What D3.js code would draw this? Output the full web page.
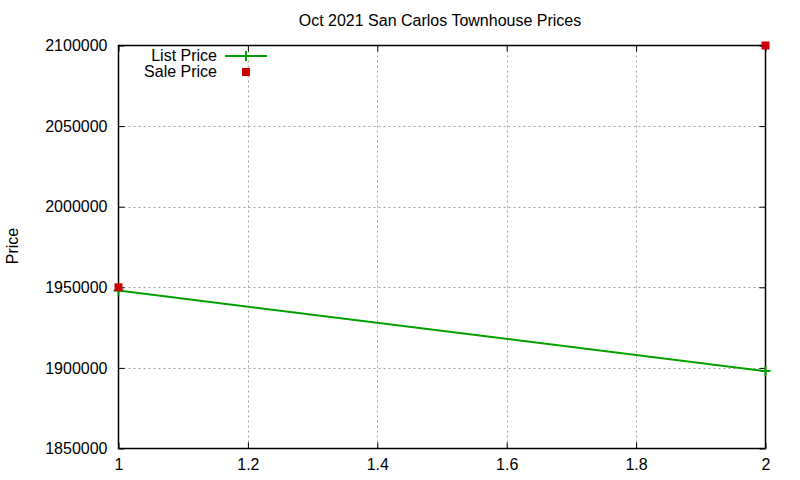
<!DOCTYPE html>
<html>
<head>
  <meta charset='utf-8'>
  <title>Oct 2021 San Carlos Townhouse Prices</title>
  <style>
    body { margin: 0; background: #fff; }
    svg { display: block; font-family: 'Liberation Sans', Arial, sans-serif; }
  </style>
</head>
<body>
<div id="chart"></div>
<script src="https://cdnjs.cloudflare.com/ajax/libs/d3/7.8.5/d3.min.js"></script>
<script>

// data
var listX = [1, 2];
var listPrice = [1948000, 1898000];
var saleX = [1, 2];
var salePrice = [1950000, 2100000];
var xTicks = [1, 1.2, 1.4, 1.6, 1.8, 2];
var yTicks = [1850000, 1900000, 1950000, 2000000, 2050000, 2100000];

var width = 800, height = 480;
// plot box (window.top is read-only, so no bare "top")
var plotL = 118.5, plotR = 765.5, plotT = 45.5, plotB = 448.5;

var svg = d3.select('#chart')
  .append('svg')
  .attr('width', width)
  .attr('height', height);

var x = d3.scaleLinear().domain([1, 2]).range([plotL, plotR]);
var y = d3.scaleLinear().domain([1850000, 2100000]).range([plotB, plotT]);

// grid, dotted grey
var grid = svg.append('g')
  .attr('stroke', '#a0a0a0')
  .attr('stroke-width', 1)
  .attr('stroke-dasharray', '2,3');

grid.selectAll('line.gx')
  .data(xTicks.slice(1, -1))
  .enter().append('line')
    .attr('x1', function(d) { return Math.round(x(d)) + 0.5; })
    .attr('x2', function(d) { return Math.round(x(d)) + 0.5; })
    .attr('y1', plotT)
    .attr('y2', plotB);

grid.selectAll('line.gy')
  .data(yTicks.slice(1, -1))
  .enter().append('line')
    .attr('y1', function(d) { return Math.round(y(d)) + 0.5; })
    .attr('y2', function(d) { return Math.round(y(d)) + 0.5; })
    .attr('x1', plotL)
    .attr('x2', plotR);

// axes: labels outside, ticks inward, mirrored
svg.append('g')
  .attr('transform', 'translate(0,' + plotB + ')')
  .call(d3.axisBottom(x).tickValues(xTicks).tickSize(-6).tickPadding(10).tickFormat(d3.format('')));
svg.append('g')
  .attr('transform', 'translate(0,' + plotT + ')')
  .call(d3.axisTop(x).tickValues(xTicks).tickSize(-6).tickFormat(''));
svg.append('g')
  .attr('transform', 'translate(' + plotL + ',0)')
  .call(d3.axisLeft(y).tickValues(yTicks).tickSize(-6).tickPadding(11).tickFormat(d3.format('d')));
svg.append('g')
  .attr('transform', 'translate(' + plotR + ',0)')
  .call(d3.axisRight(y).tickValues(yTicks).tickSize(-6).tickFormat(''));

svg.selectAll('.domain').remove();
svg.selectAll('.tick line').attr('stroke', '#000');
svg.selectAll('.tick text')
  .attr('fill', '#000')
  .attr('font-size', '16px')
  .attr('font-family', "'Liberation Sans', Arial, sans-serif");

// border
svg.append('rect')
  .attr('x', plotL)
  .attr('y', plotT)
  .attr('width', plotR - plotL)
  .attr('height', plotB - plotT)
  .attr('fill', 'none')
  .attr('stroke', '#000')
  .attr('stroke-width', 1.5);

// list price line with cross points
var line = d3.line()
  .x(function(d, i) { return x(listX[i]); })
  .y(function(d) { return y(d); });

svg.append('path')
  .datum(listPrice)
  .attr('d', line)
  .attr('fill', 'none')
  .attr('stroke', '#00a000')
  .attr('stroke-width', 2);

svg.selectAll('path.cross')
  .data(listPrice)
  .enter().append('path')
    .attr('class', 'cross')
    .attr('d', function(d, i) {
      var cx = x(listX[i]), cy = y(d);
      return 'M' + (cx - 5) + ',' + cy + 'H' + (cx + 5) + 'M' + cx + ',' + (cy - 5) + 'V' + (cy + 5);
    })
    .attr('stroke', '#00a000')
    .attr('stroke-width', 2);

// sale price squares
svg.selectAll('rect.sale')
  .data(salePrice)
  .enter().append('rect')
    .attr('class', 'sale')
    .attr('x', function(d, i) { return x(saleX[i]) - 4; })
    .attr('y', function(d) { return y(d) - 4; })
    .attr('width', 8)
    .attr('height', 8)
    .attr('fill', '#cc0000');

// legend
var legend = svg.append('g').attr('font-size', '16px');
legend.append('text')
  .attr('x', 217).attr('y', 61)
  .attr('text-anchor', 'end')
  .text('List Price');
legend.append('path')
  .attr('d', 'M225,56H267M246,51V61')
  .attr('stroke', '#00a000')
  .attr('stroke-width', 2);
legend.append('text')
  .attr('x', 217).attr('y', 77)
  .attr('text-anchor', 'end')
  .text('Sale Price');
legend.append('rect')
  .attr('x', 242).attr('y', 68)
  .attr('width', 8).attr('height', 8)
  .attr('fill', '#cc0000');

// title and y label
svg.append('text')
  .attr('x', 440).attr('y', 26)
  .attr('text-anchor', 'middle')
  .attr('font-size', '16px')
  .text('Oct 2021 San Carlos Townhouse Prices');

svg.append('text')
  .attr('transform', 'translate(18,246) rotate(-90)')
  .attr('text-anchor', 'middle')
  .attr('font-size', '16px')
  .text('Price');

</script>
</body>
</html>
